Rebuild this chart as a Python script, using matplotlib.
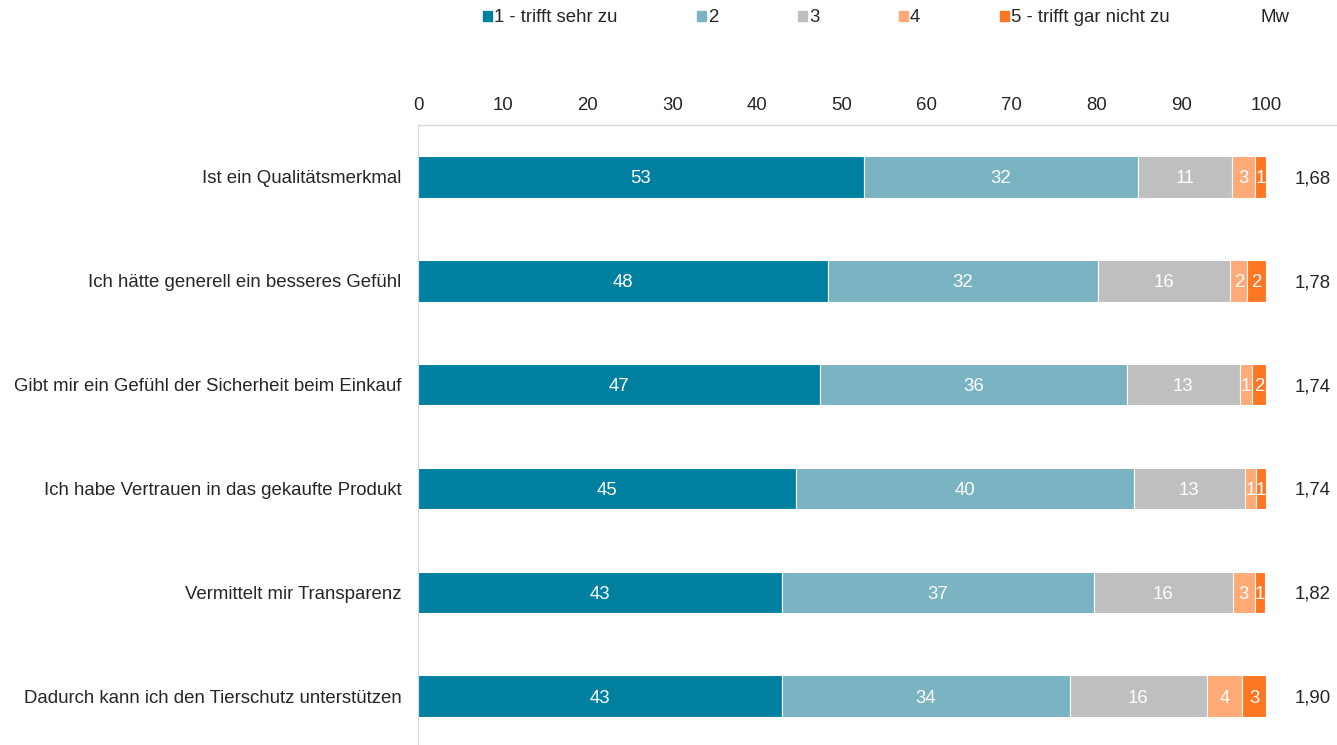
import matplotlib.pyplot as plt
from matplotlib.patches import Rectangle
from matplotlib.lines import Line2D
from matplotlib.transforms import blended_transform_factory

plt.rcParams["font.family"] = ["Liberation Sans", "DejaVu Sans"]

# === Daten ===
items = [
    "Ist ein Qualitätsmerkmal",
    "Ich hätte generell ein besseres Gefühl",
    "Gibt mir ein Gefühl der Sicherheit beim Einkauf",
    "Ich habe Vertrauen in das gekaufte Produkt",
    "Vermittelt mir Transparenz",
    "Dadurch kann ich den Tierschutz unterstützen",
]
stufe1 = [52.6, 48.3, 47.4, 44.6, 42.9, 42.9]
stufe2 = [32.3, 31.9, 36.2, 39.8, 36.8, 34.0]
stufe3 = [11.1, 15.6, 13.3, 13.1, 16.4, 16.1]
stufe4 = [2.7, 2.0, 1.4, 1.3, 2.6, 4.2]
stufe5 = [1.3, 2.2, 1.7, 1.2, 1.2, 2.8]
mw = ["1,68", "1,78", "1,74", "1,74", "1,82", "1,90"]

series = [stufe1, stufe2, stufe3, stufe4, stufe5]
names = ["1 - trifft sehr zu", "2", "3", "4", "5 - trifft gar nicht zu"]
colors = ["#0080A0", "#7AB3C1", "#BFBFBF", "#FFAA77", "#FF7722"]
textcol = "#262626"
fs = 13.4

fig = plt.figure(figsize=(13.37, 7.45), dpi=100)
W, H = 1337, 745
ax = fig.add_axes([418 / W, 0, (1266 - 418) / W, (745 - 125) / H])

y = list(range(len(items)))
left = [0.0] * len(items)
for vals, name, c in zip(series, names, colors):
    bars = ax.barh(y, vals, left=left, height=0.4, color=c, edgecolor="white",
                   linewidth=0.8, label=name)
    for b, v in zip(bars, vals):
        ax.text(b.get_x() + b.get_width() / 2, b.get_y() + b.get_height() / 2,
                f"{round(v)}", ha="center", va="center_baseline", color="white",
                fontsize=fs)
    left = [l + v for l, v in zip(left, vals)]

ax.set_xlim(0, 100)
ax.set_ylim(5.47, -0.5)
ax.set_yticks(y)
ax.set_yticklabels(items)
ax.set_xticks(range(0, 101, 10))
ax.xaxis.tick_top()
ax.tick_params(axis="x", length=0, pad=8, labelsize=fs, labelcolor=textcol)
ax.tick_params(axis="y", length=0, pad=12, labelsize=fs, labelcolor=textcol)
for s in ["top", "right", "bottom"]:
    ax.spines[s].set_visible(False)
ax.spines["left"].set_color("#D9D9D9")

# obere Linie bis zum rechten Rand
fig.add_artist(Line2D([418 / W, 1.0], [1 - 125 / H, 1 - 125 / H],
                      color="#D9D9D9", linewidth=1))

# Mittelwerte
tr = blended_transform_factory(fig.transFigure, ax.transData)
for yi, m in zip(y, mw):
    fig.text(1313 / W, yi, m, transform=tr, ha="center", va="center_baseline",
             fontsize=fs, color=textcol)

# Legende
handles = [Rectangle((0, 0), 1, 1, color=c) for c in colors]
handles.append(Rectangle((0, 0), 1, 1, fill=False, edgecolor="none"))
labels = names + ["Mw"]
leg = fig.legend(handles, labels, loc="center", bbox_to_anchor=(886 / W, 1 - 18 / H),
                 ncol=6, frameon=False, fontsize=fs, handlelength=0.5,
                 handleheight=0.5, handletextpad=0.1, columnspacing=4.27)
for t in leg.get_texts():
    t.set_color(textcol)

fig.savefig("out.png", dpi=100)
